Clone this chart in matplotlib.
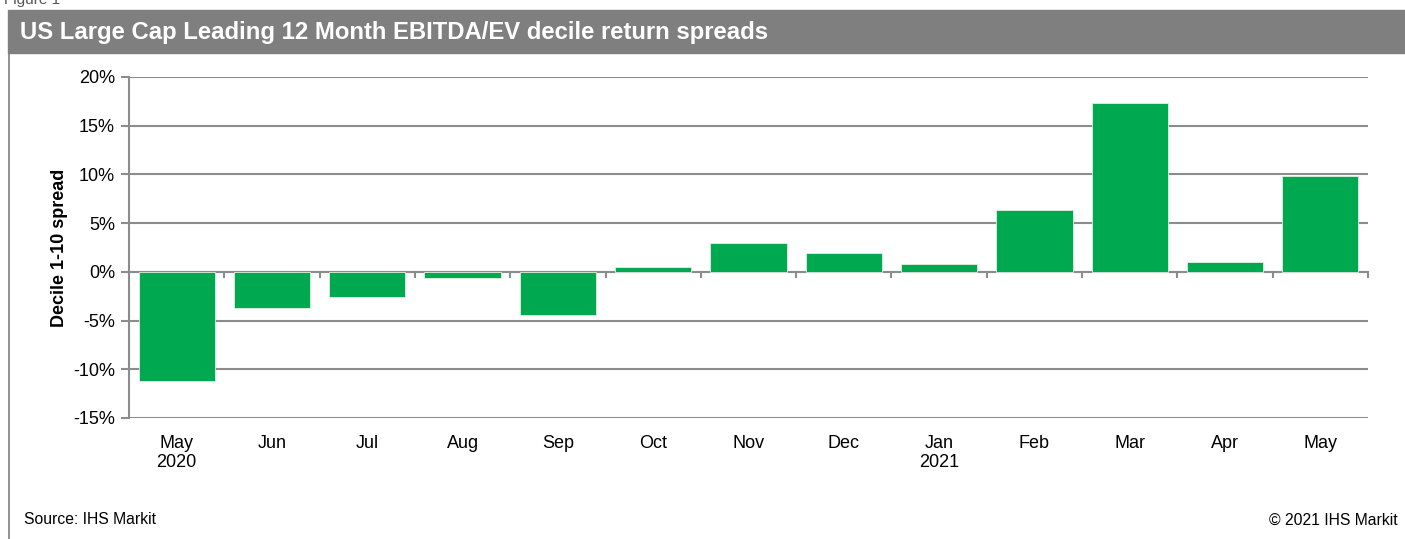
import matplotlib.pyplot as plt
import numpy as np
from matplotlib.patches import Rectangle
from matplotlib.lines import Line2D

plt.rcParams['font.family'] = ['Liberation Sans', 'DejaVu Sans']

months = ['May\n2020', 'Jun', 'Jul', 'Aug', 'Sep', 'Oct', 'Nov', 'Dec',
          'Jan\n2021', 'Feb', 'Mar', 'Apr', 'May']
spread = [-11.2, -3.7, -2.6, -0.65, -4.4, 0.5, 3.0, 1.9, 0.8, 6.3, 17.35, 1.05, 9.8]
yticks = [-15, -10, -5, 0, 5, 10, 15, 20]

W, H = 1405, 539
fig = plt.figure(figsize=(W / 100, H / 100), dpi=100)

# title band
fig.patches.append(Rectangle((8 / W, 1 - 53 / H), 1 - 8 / W, 43 / H,
                             transform=fig.transFigure, color='#7f7f7f', zorder=0))
fig.text(20 / W, 1 - 32 / H, 'US Large Cap Leading 12 Month EBITDA/EV decile return spreads',
         color='white', fontsize=17.2, fontweight='bold', va='center')
fig.text(4 / W, 1 - 0 / H, 'Figure 1', color='#555555', fontsize=11, va='center')
fig.lines.append(Line2D([8.5 / W, 8.5 / W], [0, 1 - 53 / H], transform=fig.transFigure,
                        color='#7f7f7f', lw=1.2))

ax = fig.add_axes([129 / W, 1 - 418 / H, (1368 - 129) / W, (418 - 77) / H])
x = np.arange(len(months))
ax.bar(x, spread, width=0.8, color='#00a84f', edgecolor='#e0f0e6', linewidth=0.6, zorder=3)

ax.set_xlim(-0.5, len(months) - 0.5)
ax.set_ylim(-15, 20)
ax.set_yticks(yticks)
ax.set_yticklabels([f'{v}%' for v in yticks], fontsize=13)
ax.yaxis.grid(True, color='#8c8c8c', lw=1.5, zorder=0)
ax.tick_params(axis='y', length=6, width=1.5, color='#8c8c8c', pad=4)

ax.set_xticks(x)
ax.set_xticklabels(months, fontsize=13)
ax.tick_params(axis='x', length=0, pad=12)
# category boundary ticks on the zero line
for b in np.arange(0.5, len(months), 1.0):
    ax.plot([b, b], [0, -0.55], color='#8c8c8c', lw=1.5, zorder=2, clip_on=False)
ax.axhline(0, color='#8c8c8c', lw=1.5, zorder=2)

for s in ['top', 'right', 'bottom']:
    ax.spines[s].set_visible(False)
ax.spines['left'].set_color('#8c8c8c')
ax.spines['left'].set_linewidth(1.5)

ax.set_ylabel('Decile 1-10 spread', fontsize=13, fontweight='bold', labelpad=4)

fig.text(24 / W, 1 - 520 / H, 'Source: IHS Markit', fontsize=11.3, va='center')
fig.text(1398 / W, 1 - 520 / H, '\u00a9 2021 IHS Markit', fontsize=11.3, va='center', ha='right')

fig.savefig('out.png', dpi=100)
